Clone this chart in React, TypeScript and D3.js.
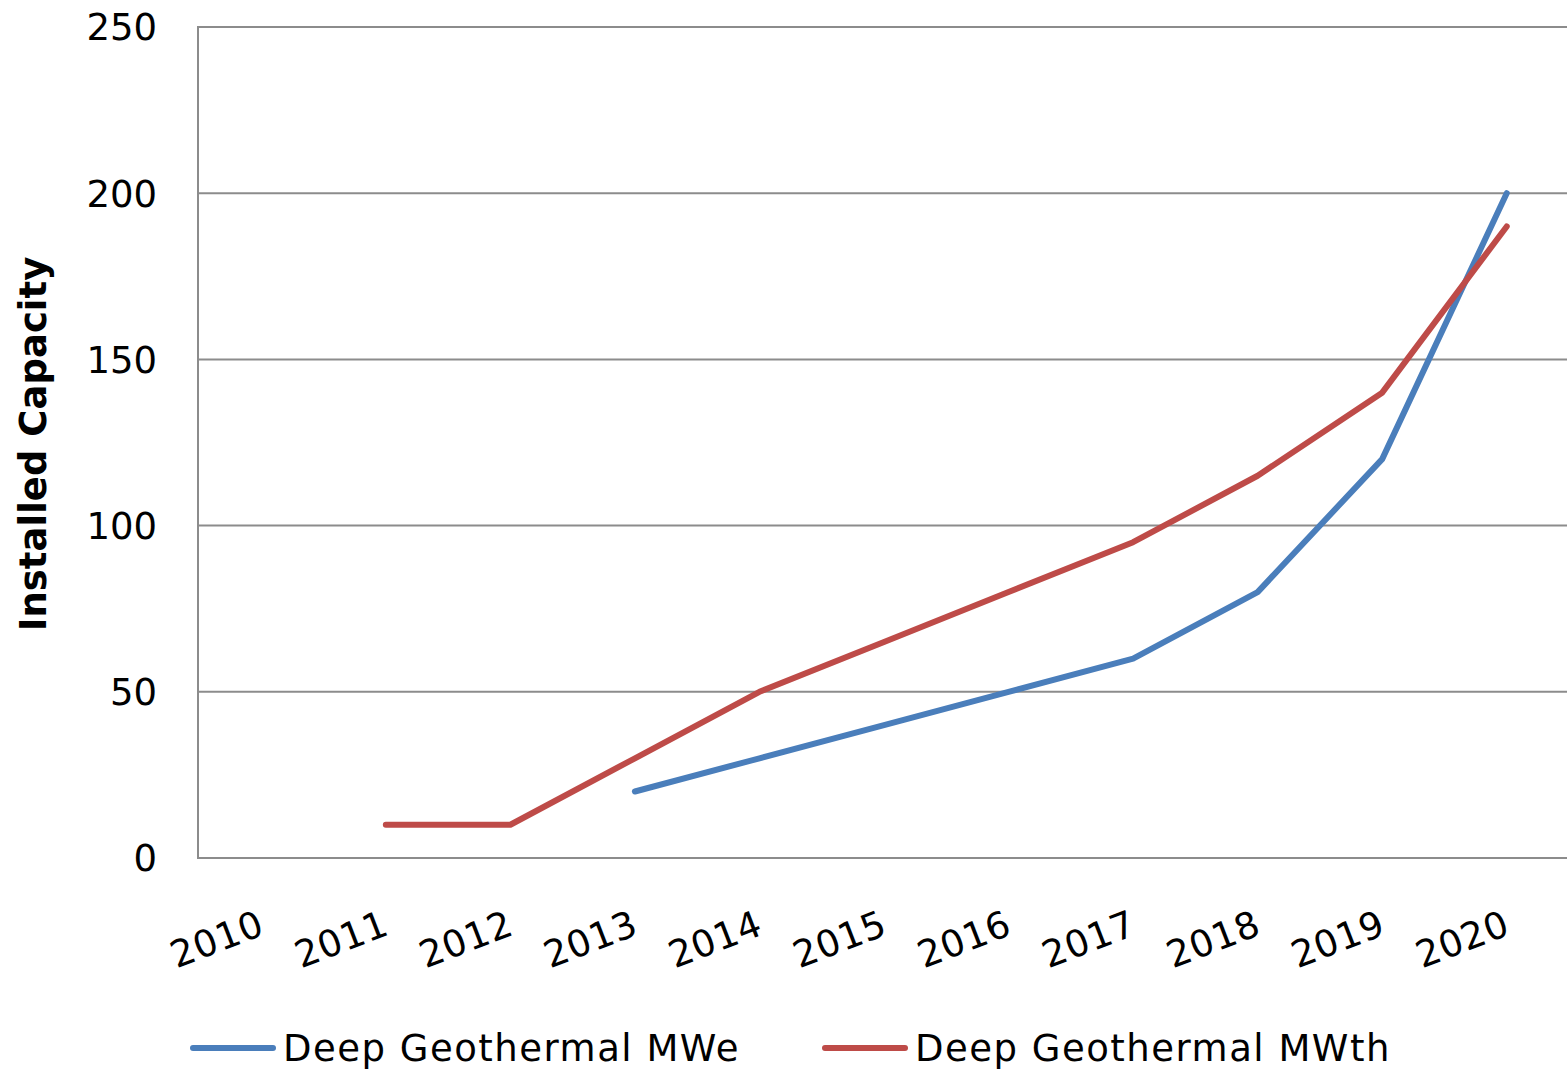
import React from "react";
import * as d3 from "d3";

const years = ["2010", "2011", "2012", "2013", "2014", "2015", "2016", "2017", "2018", "2019", "2020"];
const mweValues: (number | null)[] = [null, null, null, 20, 30, 40, 50, 60, 80, 120, 200];
const mwthValues: (number | null)[] = [null, 10, 10, 30, 50, 65, 80, 95, 115, 140, 190];
const yTicks = [0, 50, 100, 150, 200, 250];
const seriesNames = ["Deep Geothermal MWe", "Deep Geothermal MWth"];
const seriesColors = ["#4A7EBB", "#BE4B48"];

const W = 1567;
const H = 1071;
const left = 198;
const right = 1569;
const top = 27;
const bottom = 858;
const FONT = "DejaVu Sans, Verdana, sans-serif";

export default function App() {
  const x = d3.scaleBand<string>().domain(years).range([left + 1, right]).padding(0);
  const y = d3.scaleLinear().domain([0, 250]).range([bottom, top]);
  const cx = (yr: string) => (x(yr) as number) + x.bandwidth() / 2;

  const line = d3
    .line<{ yr: string; v: number | null }>()
    .defined((d) => d.v !== null)
    .x((d) => cx(d.yr))
    .y((d) => y(d.v as number));

  const series = [mweValues, mwthValues].map((vals) => years.map((yr, i) => ({ yr, v: vals[i] })));

  const legendX = [193, 825];

  return (
    <svg
      width={W}
      height={H}
      style={{ position: "absolute", left: 0, top: 0, background: "#fff" }}
      fontFamily={FONT}
    >
      <rect x={0} y={0} width={W} height={H} fill="#fff" />
      {yTicks.map((t) => (
        <g key={t}>
          {t > 0 && (
            <line x1={left} x2={W} y1={y(t)} y2={y(t)} stroke="#8c8c8c" strokeWidth={2} />
          )}
          <text x={157} y={y(t)} dy="0.36em" textAnchor="end" fontSize={37} fill="#000">
            {t}
          </text>
        </g>
      ))}
      <line x1={left} x2={left} y1={top - 1} y2={bottom + 1} stroke="#8c8c8c" strokeWidth={2} />
      <line x1={left - 1} x2={W} y1={bottom} y2={bottom} stroke="#8c8c8c" strokeWidth={2} />
      {years.map((yr) => (
        <text
          key={yr}
          transform={`translate(${cx(yr) + 5},${934}) rotate(-21)`}
          textAnchor="end"
          fontSize={37}
          letterSpacing={0.5}
          fill="#000"
        >
          {yr}
        </text>
      ))}
      <text
        transform={`translate(46,444) rotate(-90)`}
        textAnchor="middle"
        fontSize={37}
        fontWeight="bold"
        fill="#000"
      >
        Installed Capacity
      </text>
      {series.map((s, i) => (
        <path
          key={i}
          d={line(s) || ""}
          fill="none"
          stroke={seriesColors[i]}
          strokeWidth={6}
          strokeLinecap="round"
          strokeLinejoin="round"
        />
      ))}
      {seriesNames.map((n, i) => (
        <g key={n}>
          <line
            x1={legendX[i]}
            x2={legendX[i] + 80}
            y1={1048}
            y2={1048}
            stroke={seriesColors[i]}
            strokeWidth={6}
            strokeLinecap="round"
          />
          <text x={legendX[i] + 90} y={1061} fontSize={37} letterSpacing={1.5} fill="#000">
            {n}
          </text>
        </g>
      ))}
    </svg>
  );
}
